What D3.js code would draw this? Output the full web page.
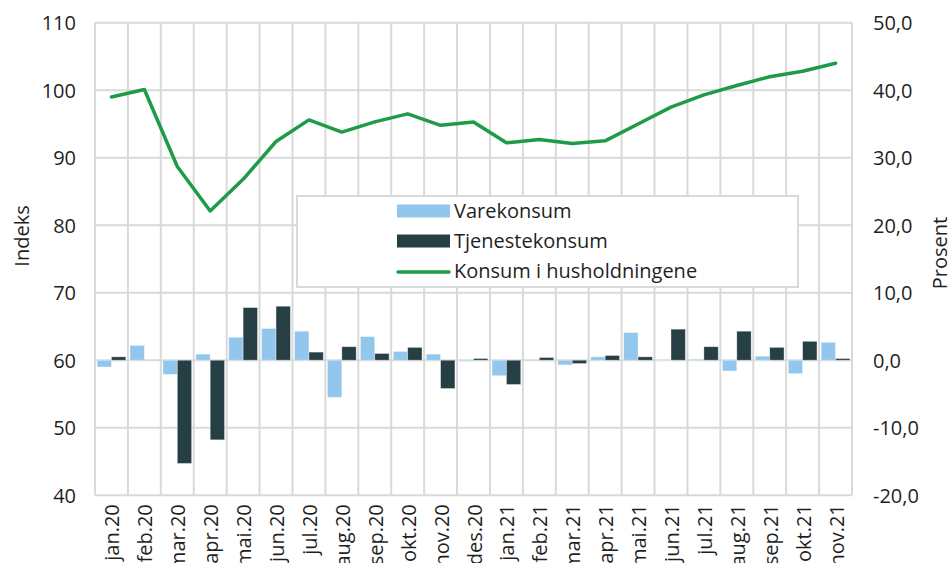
<!DOCTYPE html>
<html>
<head>
<meta charset="utf-8">
<script src="https://cdn.jsdelivr.net/npm/d3@7"></script>
<style>
  html, body { margin: 0; padding: 0; background: #fff; }
  svg { display: block; }
  text { font-family: "Open Sans", "Noto Sans", sans-serif; fill: #1f1f1f; }
</style>
</head>
<body>
<svg id="chart" width="949" height="563"></svg>
<script>
// ---- data ----
const categories = ["jan.20","feb.20","mar.20","apr.20","mai.20","jun.20","jul.20","aug.20","sep.20","okt.20","nov.20","des.20",
                    "jan.21","feb.21","mar.21","apr.21","mai.21","jun.21","jul.21","aug.21","sep.21","okt.21","nov.21"];
const varekonsum =     [-1.0, 2.2, -2.1, 0.9, 3.4, 4.7, 4.3, -5.5, 3.5, 1.3, 0.9, -0.15, -2.3, 0.0, -0.7, 0.5, 4.1, -0.1, 0.15, -1.6, 0.6, -2.0, 2.65];
const tjenestekonsum = [0.5, 0.0, -15.3, -11.8, 7.8, 8.0, 1.2, 2.0, 1.0, 1.9, -4.2, 0.25, -3.6, 0.4, -0.5, 0.7, 0.5, 4.6, 2.0, 4.3, 1.9, 2.8, 0.25];
const konsumHusholdning = [99.0, 100.1, 88.7, 82.1, 86.8, 92.4, 95.6, 93.8, 95.3, 96.5, 94.8, 95.3,
                           92.2, 92.7, 92.1, 92.5, 95.0, 97.5, 99.3, 100.7, 102.0, 102.8, 104.0];
const leftTicks = [40, 50, 60, 70, 80, 90, 100, 110];
const rightTicks = [-20, -10, 0, 10, 20, 30, 40, 50];
const seriesNames = ["Varekonsum", "Tjenestekonsum", "Konsum i husholdningene"];
const colors = { Varekonsum: "#93c6ec", Tjenestekonsum: "#263f45", line: "#1f9b47" };

// ---- layout ----
const svg = d3.select("#chart");
const L = 95, R = 852, T = 22.7, B = 495.2;
const gridColor = "#d9d9d9";

const x = d3.scaleBand().domain(categories).range([L, R]).paddingInner(0).paddingOuter(0);
const xInner = d3.scaleBand().domain(["Varekonsum", "Tjenestekonsum"]).range([0, x.bandwidth()]).paddingInner(0).paddingOuter(0.146);
const yL = d3.scaleLinear().domain([40, 110]).range([B, T]);
const yR = d3.scaleLinear().domain([-20, 50]).range([B, T]);

// gridlines
const grid = svg.append("g");
grid.selectAll("line.h").data(leftTicks).join("line")
  .attr("x1", L).attr("x2", R).attr("y1", d => yL(d)).attr("y2", d => yL(d))
  .attr("stroke", gridColor).attr("stroke-width", 2);
const vLines = categories.map(c => x(c)).concat([R]);
grid.selectAll("line.v").data(vLines).join("line")
  .attr("x1", d => d).attr("x2", d => d).attr("y1", T).attr("y2", B)
  .attr("stroke", gridColor).attr("stroke-width", 2);

// bars
const barData = [];
categories.forEach((c, i) => {
  barData.push({ c, key: "Varekonsum", v: varekonsum[i] });
  barData.push({ c, key: "Tjenestekonsum", v: tjenestekonsum[i] });
});
svg.append("g").selectAll("rect").data(barData).join("rect")
  .attr("x", d => x(d.c) + xInner(d.key))
  .attr("width", xInner.bandwidth())
  .attr("y", d => Math.min(yR(d.v), yR(0)))
  .attr("height", d => Math.abs(yR(d.v) - yR(0)))
  .attr("fill", d => colors[d.key])
  .attr("stroke", "#ffffff").attr("stroke-opacity", 0.5).attr("stroke-width", 0.75);

// line
const line = d3.line().x((d, i) => x(categories[i]) + x.bandwidth() / 2).y(d => yL(d));
svg.append("path").datum(konsumHusholdning)
  .attr("d", line).attr("fill", "none")
  .attr("stroke", colors.line).attr("stroke-width", 3.5)
  .attr("stroke-linejoin", "round").attr("stroke-linecap", "round");

// left axis
const axL = svg.append("g").attr("transform", `translate(${L},0)`)
  .call(d3.axisLeft(yL).tickValues(leftTicks).tickSize(0).tickPadding(19).tickFormat(d3.format("d")));
axL.select(".domain").remove();
axL.selectAll("text").style("font-size", "20px").attr("dy", "0.35em");

// right axis
const fmtR = d => d3.format(".1f")(d).replace(".", ",").replace("−", "-");
const axR = svg.append("g").attr("transform", `translate(${R},0)`)
  .call(d3.axisRight(yR).tickValues(rightTicks).tickSize(0).tickPadding(21).tickFormat(fmtR));
axR.select(".domain").remove();
axR.selectAll("text").style("font-size", "20px").attr("dy", "0.35em");

// x axis
const axX = svg.append("g").attr("transform", `translate(0,${B})`)
  .call(d3.axisBottom(x).tickSize(0).tickPadding(0));
axX.select(".domain").remove();
axX.selectAll("text")
  .style("font-size", "20px")
  .attr("text-anchor", "end")
  .attr("transform", "rotate(-90)")
  .attr("x", -9).attr("y", 1).attr("dy", "0.35em");

// axis titles
svg.append("text").attr("transform", "translate(22,236) rotate(-90)")
  .attr("text-anchor", "middle").attr("dy", "0.35em").style("font-size", "20px").text("Indeks");
svg.append("text").attr("transform", "translate(940,253) rotate(-90)")
  .attr("text-anchor", "middle").attr("dy", "0.35em").style("font-size", "20px").text("Prosent");

// legend
const lg = svg.append("g");
lg.append("rect").attr("x", 297).attr("y", 196).attr("width", 501).attr("height", 91)
  .attr("fill", "#fff").attr("stroke", gridColor).attr("stroke-width", 2);
const rows = [211, 241, 271];
seriesNames.forEach((name, i) => {
  if (i < 2) {
    lg.append("rect").attr("x", 397).attr("y", rows[i] - 6.5).attr("width", 53).attr("height", 13)
      .attr("fill", colors[name]);
  } else {
    lg.append("line").attr("x1", 398).attr("x2", 449).attr("y1", rows[i] + 1).attr("y2", rows[i] + 1)
      .attr("stroke", colors.line).attr("stroke-width", 3.5).attr("stroke-linecap", "round");
  }
  lg.append("text").attr("x", 454).attr("y", rows[i]).attr("dy", "0.35em")
    .style("font-size", "20px").text(name);
});
</script>
</body>
</html>
